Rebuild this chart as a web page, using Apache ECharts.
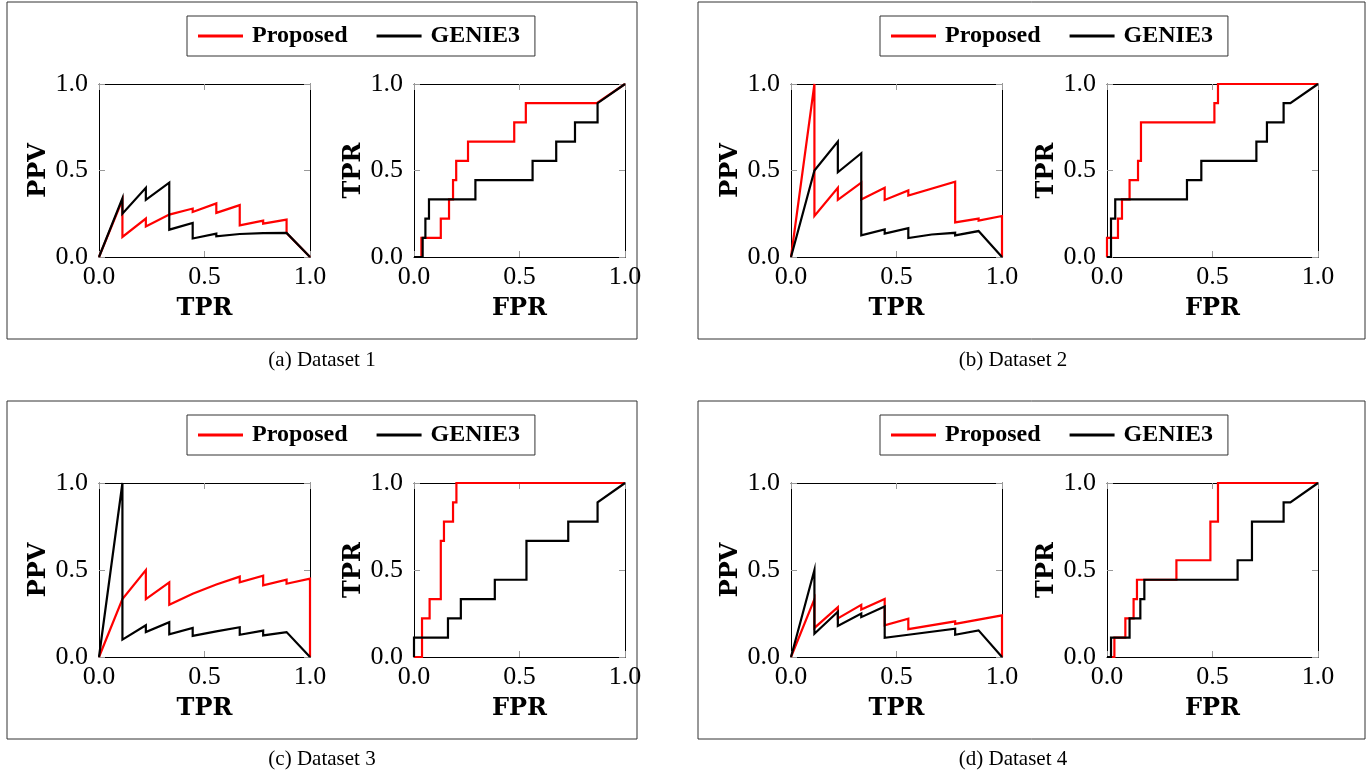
<!DOCTYPE html>
<html>
<head>
<meta charset="utf-8">
<script src="https://cdn.jsdelivr.net/npm/echarts@6/dist/echarts.min.js"></script>
<style>
  html, body { margin: 0; padding: 0; background: #fff; }
  #main { width: 1372px; height: 774px; }
</style>
</head>
<body>
<div id="main"></div>
<script>
// tick labels shared by all axes
const tickValues = [0, 0.5, 1];

// PR curves (TPR, PPV)
const prProposedA = [[0,0],[0.111,0.33],[0.111,0.116],[0.222,0.222],[0.222,0.176],[0.333,0.245],[0.444,0.28],[0.444,0.26],[0.556,0.31],[0.556,0.255],[0.667,0.30],[0.667,0.183],[0.778,0.21],[0.778,0.193],[0.889,0.216],[0.889,0.139],[1,0]];
const prGenieA = [[0,0],[0.111,0.34],[0.111,0.25],[0.222,0.4],[0.222,0.33],[0.333,0.43],[0.333,0.158],[0.444,0.197],[0.444,0.107],[0.556,0.135],[0.556,0.12],[0.667,0.133],[0.667,0.127],[0.778,0.138],[0.778,0.13],[0.889,0.139],[1,0]];
const prProposedB = [[0,0],[0.111,1.0],[0.111,0.237],[0.222,0.4],[0.222,0.33],[0.333,0.43],[0.333,0.333],[0.444,0.4],[0.444,0.33],[0.556,0.385],[0.556,0.355],[0.778,0.435],[0.778,0.2],[0.889,0.222],[0.889,0.21],[1,0.237],[1,0]];
const prGenieB = [[0,0],[0.111,0.5],[0.222,0.667],[0.222,0.49],[0.333,0.6],[0.333,0.125],[0.444,0.16],[0.444,0.135],[0.556,0.167],[0.556,0.11],[0.667,0.13],[0.778,0.14],[0.778,0.125],[0.889,0.15],[1,0]];
const prProposedC = [[0,0],[0.111,0.333],[0.222,0.5],[0.222,0.333],[0.333,0.429],[0.333,0.3],[0.444,0.364],[0.556,0.417],[0.667,0.462],[0.667,0.429],[0.778,0.467],[0.778,0.412],[0.889,0.444],[0.889,0.421],[1,0.45],[1,0]];
const prGenieC = [[0,0],[0.111,1.0],[0.111,0.1],[0.222,0.182],[0.222,0.143],[0.333,0.2],[0.333,0.13],[0.444,0.167],[0.444,0.121],[0.556,0.147],[0.667,0.171],[0.667,0.128],[0.778,0.152],[0.778,0.124],[0.889,0.143],[1,0]];
const prProposedD = [[0,0],[0.111,0.333],[0.111,0.167],[0.222,0.286],[0.222,0.222],[0.333,0.3],[0.333,0.273],[0.444,0.333],[0.444,0.182],[0.556,0.22],[0.556,0.16],[0.778,0.205],[0.778,0.19],[1,0.239],[1,0]];
const prGenieD = [[0,0],[0.111,0.5],[0.111,0.134],[0.222,0.26],[0.222,0.178],[0.333,0.25],[0.333,0.229],[0.444,0.29],[0.444,0.11],[0.556,0.128],[0.556,0.118],[0.778,0.163],[0.778,0.128],[0.889,0.153],[1,0]];

// ROC curves (FPR, TPR)
const rocProposedA = [[0,0],[0.035,0],[0.035,0.111],[0.127,0.111],[0.127,0.222],[0.166,0.222],[0.166,0.333],[0.185,0.333],[0.185,0.444],[0.2,0.444],[0.2,0.556],[0.256,0.556],[0.256,0.667],[0.475,0.667],[0.475,0.778],[0.53,0.778],[0.53,0.889],[0.866,0.889],[1,1]];
const rocGenieA = [[0,0],[0.041,0],[0.041,0.111],[0.054,0.111],[0.054,0.222],[0.071,0.222],[0.071,0.333],[0.291,0.333],[0.291,0.444],[0.562,0.444],[0.562,0.556],[0.674,0.556],[0.674,0.667],[0.763,0.667],[0.763,0.778],[0.87,0.778],[0.87,0.889],[1,1]];
const rocProposedB = [[0,0],[0,0.111],[0.052,0.111],[0.052,0.222],[0.071,0.222],[0.071,0.333],[0.107,0.333],[0.107,0.444],[0.147,0.444],[0.147,0.556],[0.161,0.556],[0.161,0.778],[0.509,0.778],[0.509,0.889],[0.526,0.889],[0.526,1],[1,1]];
const rocGenieB = [[0,0],[0.019,0],[0.019,0.222],[0.039,0.222],[0.039,0.333],[0.379,0.333],[0.379,0.444],[0.447,0.444],[0.447,0.556],[0.708,0.556],[0.708,0.667],[0.758,0.667],[0.758,0.778],[0.837,0.778],[0.837,0.889],[0.869,0.889],[1,1]];
const rocProposedC = [[0,0],[0.038,0],[0.038,0.222],[0.074,0.222],[0.074,0.333],[0.127,0.333],[0.127,0.667],[0.142,0.667],[0.142,0.778],[0.185,0.778],[0.185,0.889],[0.201,0.889],[0.201,1],[1,1]];
const rocGenieC = [[0,0],[0,0.111],[0.161,0.111],[0.161,0.222],[0.222,0.222],[0.222,0.333],[0.383,0.333],[0.383,0.444],[0.533,0.444],[0.533,0.667],[0.731,0.667],[0.731,0.778],[0.87,0.778],[0.87,0.889],[1,1]];
const rocProposedD = [[0,0],[0.035,0],[0.035,0.111],[0.087,0.111],[0.087,0.222],[0.126,0.222],[0.126,0.333],[0.142,0.333],[0.142,0.444],[0.329,0.444],[0.329,0.556],[0.49,0.556],[0.49,0.778],[0.526,0.778],[0.526,1],[1,1]];
const rocGenieD = [[0,0],[0.019,0],[0.019,0.111],[0.107,0.111],[0.107,0.222],[0.158,0.222],[0.158,0.333],[0.177,0.333],[0.177,0.444],[0.619,0.444],[0.619,0.556],[0.687,0.556],[0.687,0.778],[0.837,0.778],[0.837,0.889],[0.869,0.889],[1,1]];

const captions = ['(a) Dataset 1', '(b) Dataset 2', '(c) Dataset 3', '(d) Dataset 4'];
const seriesNames = ['Proposed', 'GENIE3'];

const RED = '#ff0000';
const BLACK = '#000000';

// one entry per dataset panel: frame box, legend, caption and two plots
const panels = [
  { box: [7, 2, 630, 337], legend: [187, 16], caption: [322, 360], top: 84, h: 173, pr: [99, prProposedA, prGenieA], roc: [414, rocProposedA, rocGenieA] },
  { box: [698, 2, 667, 337], legend: [880, 16], caption: [1013, 360], top: 84, h: 173, pr: [791, prProposedB, prGenieB], roc: [1107, rocProposedB, rocGenieB] },
  { box: [7, 401, 630, 338], legend: [187, 415], caption: [322, 759], top: 483, h: 174, pr: [99, prProposedC, prGenieC], roc: [414, rocProposedC, rocGenieC] },
  { box: [698, 401, 667, 338], legend: [880, 415], caption: [1013, 759], top: 483, h: 174, pr: [791, prProposedD, prGenieD], roc: [1107, rocProposedD, rocGenieD] }
];

const grids = [], xAxes = [], yAxes = [], series = [], legends = [], graphics = [];

function addPlot(left, top, h, xName, yName, proposed, genie) {
  const g = grids.length;
  grids.push({ left: left, top: top, width: 211, height: h, containLabel: false });
  const tick = { show: true, inside: true, length: 6, lineStyle: { color: '#999', width: 1 } };
  const line = { show: true, onZero: false, lineStyle: { color: '#000', width: 1 } };
  const label = {
    show: true, color: '#000', fontSize: 26, fontFamily: 'Liberation Serif',
    formatter: v => tickValues.indexOf(v) >= 0 ? v.toFixed(1) : ''
  };
  const nameStyle = { fontFamily: 'DejaVu Serif', fontWeight: 'bold', fontSize: 24, color: '#000' };
  xAxes.push({
    gridIndex: g, type: 'value', min: 0, max: 1, interval: 0.5, position: 'bottom',
    axisLine: line, axisTick: tick, splitLine: { show: false },
    axisLabel: Object.assign({ margin: 7 }, label),
    name: xName, nameLocation: 'middle', nameGap: 40, nameTextStyle: nameStyle
  });
  xAxes.push({
    gridIndex: g, type: 'value', min: 0, max: 1, interval: 0.5, position: 'top',
    axisLine: line, axisTick: tick, splitLine: { show: false }, axisLabel: { show: false }
  });
  yAxes.push({
    gridIndex: g, type: 'value', min: 0, max: 1, interval: 0.5, position: 'left',
    axisLine: line, axisTick: tick, splitLine: { show: false },
    axisLabel: Object.assign({ margin: 11 }, label),
    name: yName, nameLocation: 'middle', nameGap: 48, nameTextStyle: nameStyle
  });
  yAxes.push({
    gridIndex: g, type: 'value', min: 0, max: 1, interval: 0.5, position: 'right',
    axisLine: line, axisTick: tick, splitLine: { show: false }, axisLabel: { show: false }
  });
  [[proposed, RED, seriesNames[0]], [genie, BLACK, seriesNames[1]]].forEach(s => {
    series.push({
      type: 'line', name: s[2], data: s[0], xAxisIndex: 2 * g, yAxisIndex: 2 * g,
      symbol: 'none', showSymbol: false, color: s[1], silent: true,
      lineStyle: { color: s[1], width: 2.2, join: 'miter', miterLimit: 10 }
    });
  });
}

panels.forEach((p, i) => {
  addPlot(p.pr[0], p.top, p.h, 'TPR', 'PPV', p.pr[1], p.pr[2]);
  addPlot(p.roc[0], p.top, p.h, 'FPR', 'TPR', p.roc[1], p.roc[2]);
  legends.push({
    data: seriesNames, left: p.legend[0], top: p.legend[1], orient: 'horizontal',
    icon: 'rect', itemWidth: 45, itemHeight: 3, itemGap: 29,
    padding: [8, 15, 8, 11], borderColor: '#333', borderWidth: 1,
    selectedMode: false,
    textStyle: { fontFamily: 'Liberation Serif', fontWeight: 'bold', fontSize: 24, color: '#000', padding: [0, 0, 0, 4] }
  });
  graphics.push({
    type: 'rect', shape: { x: p.box[0], y: p.box[1], width: p.box[2], height: p.box[3] },
    style: { fill: 'none', stroke: '#333', lineWidth: 1 }, silent: true
  });
  graphics.push({
    type: 'text', x: p.caption[0], y: p.caption[1], silent: true,
    style: { text: captions[i], font: '21px "Liberation Serif"', fill: '#000', align: 'center', verticalAlign: 'middle' }
  });
});

const chart = echarts.init(document.getElementById('main'), null, { renderer: 'canvas' });
chart.setOption({
  animation: false,
  backgroundColor: '#fff',
  grid: grids,
  xAxis: xAxes,
  yAxis: yAxes,
  legend: legends,
  series: series,
  graphic: graphics
});
</script>
</body>
</html>
